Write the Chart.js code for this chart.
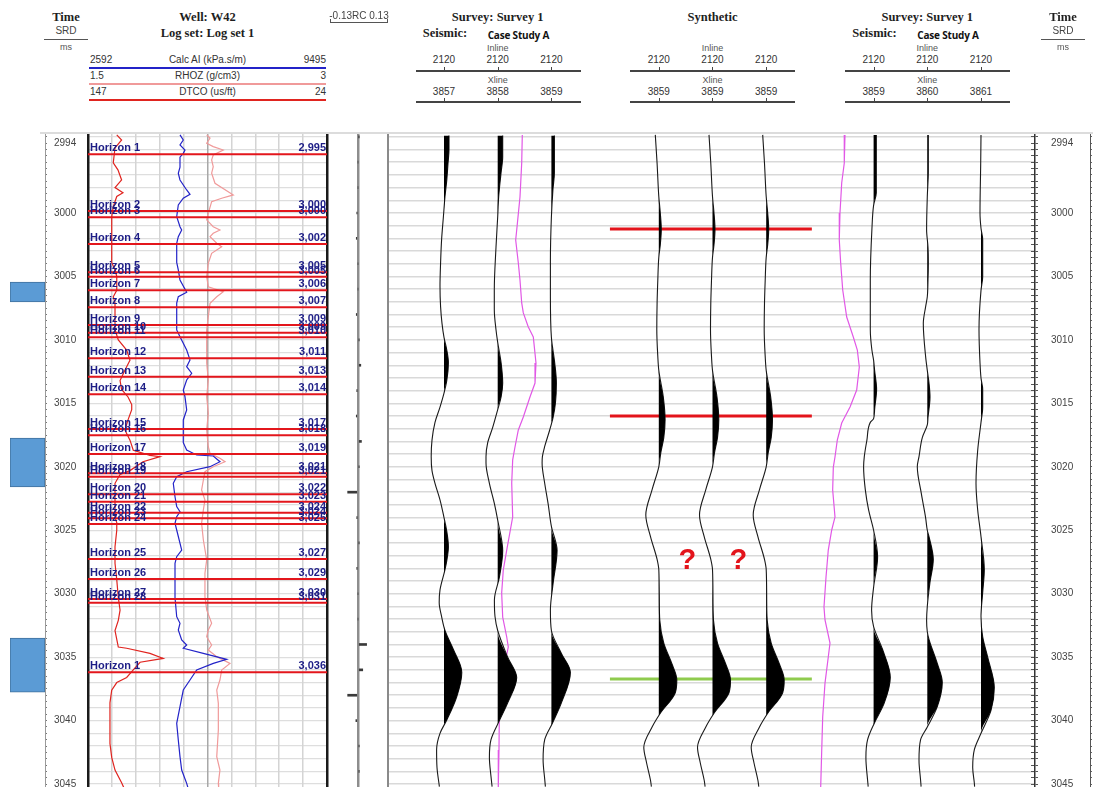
<!DOCTYPE html>
<html>
<head>
<meta charset="utf-8">
<title>Well W42 – seismic well tie</title>
<script src="https://cdn.jsdelivr.net/npm/chart.js@4.4.1/dist/chart.umd.min.js"></script>
<style>
  body { margin: 0; background: #fff; }
  #page { position: relative; width: 1093px; height: 787px; overflow: hidden;
          font-family: "Liberation Sans", Arial, sans-serif; color: #333; }
  #page canvas { position: absolute; }
  .tx { position: absolute; white-space: nowrap; font-size: 10px; line-height: 12px; }
  .c { transform: translate(-50%, -50%); }
  .l { transform: translate(0, -50%); }
  .r { transform: translate(-100%, -50%); }
  .serif { font-family: "Liberation Serif", "Times New Roman", serif; font-weight: bold;
           font-size: 12.5px; color: #1e1e1e; }
  .case { font-family: "Open Sans", "Liberation Sans", sans-serif; font-weight: 700;
          font-size: 10px; color: #111; letter-spacing: -0.2px; }
  .small { font-size: 9px; color: #555; }
  .hl { position: absolute; height: 1px; background: #555; }
</style>
</head>
<body>
<div id="page"></div>
<script>
// ---------- time window (two-way time, ms) ----------
const T_TOP = 2993.70;
const T_BOTTOM = 3045.23;
const timeLabels = [2994, 3000, 3005, 3010, 3015, 3020, 3025, 3030, 3035, 3040, 3045];

// ---------- well logs: [time ms, value] ----------
const dtco = [[2993.85,132.2],[2994.25,129.7],[2994.88,133.1],[2996.06,134.0],[2996.6,131.6],[2997.4,129.7],[2998.0,133.1],[2998.4,129.0],[2998.7,132.2],[2999.5,134.0],[3000.3,134.8],[3002.1,134.8],[3003.9,134.8],[3004.5,133.1],[3005.0,132.2],[3006.1,132.2],[3006.6,134.0],[3007.1,133.1],[3009.2,133.1],[3010.0,131.4],[3010.8,127.1],[3011.6,125.4],[3012.4,128.0],[3013.2,130.5],[3013.9,129.7],[3014.5,126.4],[3015.1,124.5],[3015.5,124.5],[3016.3,126.4],[3017.1,128.0],[3017.9,125.4],[3018.7,123.7],[3019.1,115.1],[3019.2,110.0],[3019.6,118.7],[3020.3,125.4],[3020.6,130.5],[3021.3,133.1],[3022.4,133.1],[3024.0,133.1],[3024.4,132.2],[3025.0,132.2],[3026.3,133.1],[3027.6,133.1],[3028.9,132.2],[3030.3,131.4],[3031.3,130.5],[3032.1,131.4],[3032.9,133.1],[3033.6,132.2],[3034.2,131.4],[3034.3,127.1],[3034.7,115.1],[3035.1,108.3],[3035.4,120.2],[3036.0,123.7],[3036.6,127.1],[3037.0,132.2],[3037.6,134.8],[3038.6,135.7],[3041.8,135.7],[3042.9,134.8],[3043.9,133.1],[3044.9,129.7],[3045.3,128.5]];

const calcAI = [[2993.85,5249],[2994.25,5344],[2994.64,5249],[2995.04,5393],[2995.30,5344],[2995.6,5249],[2996.4,5249],[2996.87,5200],[2997.4,5249],[2998.19,5442],[2998.53,5538],[2998.84,5344],[2999.37,5200],[3000.29,5154],[3001.08,5249],[3001.34,5298],[3001.87,5200],[3002.4,5154],[3003.9,5154],[3004.49,5200],[3005.28,5249],[3006.25,5442],[3006.59,5200],[3007.1,5154],[3009.22,5154],[3009.75,5249],[3010.80,5442],[3011.58,5538],[3012.11,5442],[3012.63,5587],[3013.16,5442],[3013.95,5344],[3014.48,5393],[3015.52,5442],[3016.31,5344],[3018.1,5344],[3018.68,5442],[3019.07,5731],[3019.15,6211],[3019.60,6404],[3019.99,6115],[3020.39,5442],[3020.78,5154],[3021.30,5055],[3022.36,5105],[3023.14,5154],[3023.54,5249],[3023.93,5154],[3024.45,5105],[3024.98,5154],[3026.56,5298],[3027.08,5154],[3027.6,5105],[3030.3,5105],[3031.81,5154],[3032.33,5249],[3032.86,5200],[3033.65,5298],[3034.04,5442],[3034.30,5344],[3034.70,5922],[3035.17,6598],[3035.49,6211],[3036.01,5731],[3036.80,5538],[3037.59,5344],[3038.90,5249],[3040.21,5154],[3041.53,5200],[3042.84,5249],[3043.89,5298],[3044.94,5442],[3045.3,5480]];

const rhoz = [[2993.85,2.245],[2994.11,2.266],[2994.51,2.245],[2994.77,2.286],[2995.04,2.349],[2995.43,2.286],[2995.82,2.276],[2996.35,2.286],[2996.87,2.276],[2997.66,2.297],[2998.58,2.412],[2998.84,2.339],[2999.11,2.276],[3000.02,2.255],[3000.55,2.245],[3001.08,2.286],[3001.34,2.328],[3001.60,2.286],[3001.87,2.266],[3002.39,2.308],[3002.66,2.339],[3003.18,2.276],[3003.96,2.255],[3005.02,2.245],[3005.81,2.255],[3006.20,2.349],[3006.60,2.308],[3007.12,2.266],[3008.17,2.255],[3009.22,2.245],[3011.84,2.245],[3013.16,2.255],[3014.48,2.245],[3015.78,2.255],[3017.10,2.245],[3018.42,2.255],[3018.94,2.266],[3019.33,2.328],[3019.60,2.360],[3019.99,2.286],[3020.39,2.234],[3021.04,2.224],[3021.83,2.213],[3022.62,2.234],[3023.40,2.224],[3024.45,2.213],[3025.77,2.224],[3027.34,2.245],[3028.39,2.234],[3030.24,2.234],[3031.28,2.245],[3032.33,2.276],[3032.86,2.255],[3033.39,2.245],[3034.04,2.276],[3034.44,2.255],[3034.96,2.308],[3035.49,2.391],[3036.01,2.339],[3036.80,2.328],[3037.59,2.308],[3038.64,2.318],[3040.74,2.318],[3042.84,2.308],[3043.89,2.328],[3044.94,2.318],[3045.3,2.320]];

// log curve scales and legend
const logCurves = [
  { name: 'Calc AI (kPa.s/m)', min: 2592, max: 9495, data: calcAI, color: '#2323c8', axis: 'xAI', reverse: false, minLabel: '2592', maxLabel: '9495' },
  { name: 'RHOZ (g/cm3)',      min: 1.5,  max: 3,    data: rhoz,   color: '#f09a9a', axis: 'xRH', reverse: false, minLabel: '1.5',  maxLabel: '3' },
  { name: 'DTCO (us/ft)',      min: 24,   max: 147,  data: dtco,   color: '#e0241f', axis: 'xDT', reverse: true,  minLabel: '147',  maxLabel: '24' }
];

// ---------- horizon picks ----------
const horizonNames = ['Horizon 1','Horizon 2','Horizon 3','Horizon 4','Horizon 5','Horizon 6','Horizon 7','Horizon 8','Horizon 9','Horizon 10','Horizon 11','Horizon 12','Horizon 13','Horizon 14','Horizon 15','Horizon 16','Horizon 17','Horizon 18','Horizon 19','Horizon 20','Horizon 21','Horizon 22','Horizon 23','Horizon 24','Horizon 25','Horizon 26','Horizon 27','Horizon 28','Horizon 1'];
const horizonTimes = [2995.37,2999.84,3000.34,3002.44,3004.67,3005.02,3006.09,3007.43,3008.83,3009.43,3009.80,3011.45,3012.90,3014.29,3017.02,3017.52,3018.99,3020.51,3020.78,3022.17,3022.75,3023.62,3024.06,3024.51,3027.27,3028.84,3030.42,3030.71,3036.19];

// ---------- reflection coefficients (2 ms) ----------
const rcTimes  = [2994,2996,2998,3000,3002,3004,3006,3008,3010,3012,3014,3016,3018,3020,3022,3024,3026,3028,3030,3032,3034,3036,3038,3040,3042,3044];
const rcValues = [0.003,0,0,-0.004,-0.008,0,0,-0.008,0.004,0.013,-0.004,-0.008,0.016,0.004,-0.048,-0.004,0.004,-0.004,0,0,0.04,0.022,-0.048,-0.01,0.004,0.004];

// ---------- seismic / synthetic traces: [time ms, amplitude] ----------
const traceIL2120XL3857 = [[2993.9,0.25],[2995.0,0.25],[2996.1,0.20],[2997.4,0.14],[2998.7,0.05],[3000.3,-0.03],[3002.1,-0.12],[3003.9,-0.17],[3005.8,-0.20],[3007.4,-0.17],[3008.7,-0.10],[3009.8,0],[3010.8,0.14],[3011.8,0.22],[3013.2,0.14],[3014.2,0],[3015.3,-0.20],[3016.5,-0.45],[3017.9,-0.60],[3019.2,-0.64],[3020.3,-0.60],[3021.3,-0.45],[3022.6,-0.20],[3024.0,0],[3025.0,0.13],[3026.3,0.22],[3027.3,0.15],[3028.1,0.05],[3029.7,-0.20],[3030.7,-0.24],[3031.8,-0.12],[3032.9,0.05],[3034.4,0.47],[3036.2,0.89],[3038.1,0.64],[3039.95,0.14],[3041.0,-0.20],[3042.3,-0.37],[3043.7,-0.35],[3045.2,-0.23]];
const traceIL2120XL3858 = [[2993.9,0.25],[2995.6,0.25],[2996.8,0.17],[2998.7,0.05],[3000.3,0],[3002.7,-0.085],[3006.1,-0.17],[3007.6,-0.17],[3009.2,-0.085],[3010.2,0],[3011.8,0.17],[3013.4,0.25],[3014.5,0.17],[3015.5,0],[3016.9,-0.25],[3018.1,-0.50],[3019.2,-0.585],[3019.7,-0.585],[3021.3,-0.415],[3022.9,-0.165],[3024.2,0],[3026.6,0.25],[3028.7,0.085],[3030.5,-0.165],[3031.8,-0.135],[3032.9,0],[3035.0,0.50],[3036.6,0.95],[3038.6,0.50],[3040.0,0.085],[3041.5,-0.335],[3042.9,-0.415],[3044.4,-0.335],[3045.2,-0.28]];
const traceIL2120XL3859a = [[2993.9,0.15],[2996.8,0.15],[2998.2,0.075],[3000.3,0],[3003.9,-0.05],[3006.6,-0.05],[3009.8,0],[3011.8,0.165],[3013.4,0.25],[3015.0,0.20],[3016.1,0.085],[3017.1,-0.085],[3018.4,-0.335],[3019.2,-0.45],[3019.7,-0.465],[3021.3,-0.335],[3022.9,-0.165],[3024.7,0],[3026.6,0.285],[3029.2,0.085],[3031.3,-0.05],[3032.9,0],[3034.7,0.50],[3036.2,0.95],[3038.6,0.50],[3040.2,0.05],[3041.5,-0.335],[3043.1,-0.415],[3044.6,-0.335],[3045.2,-0.30]];
const syntheticTrace = [[2993.85,-0.175],[2996.1,-0.085],[2998.7,0],[3000.0,0.075],[3001.3,0.125],[3002.5,0.075],[3003.5,0],[3005.3,-0.05],[3007.1,-0.085],[3009.2,-0.10],[3011.3,-0.05],[3012.4,0],[3014.5,0.225],[3016.3,0.315],[3017.7,0.25],[3018.9,0.10],[3020.0,0],[3021.8,-0.335],[3023.8,-0.65],[3025.5,-0.415],[3027.3,-0.085],[3028.1,0],[3030.5,0.025],[3032.1,0.05],[3033.9,0.25],[3035.5,0.65],[3036.8,0.90],[3037.8,0.825],[3039.4,0.085],[3040.5,-0.335],[3042.1,-0.75],[3043.3,-0.615],[3044.7,-0.415],[3045.2,-0.37]];
const traceIL2120XL3859b = [[2993.85,0.135],[2998.4,0.135],[2999.4,0],[3001.3,-0.085],[3005.3,-0.165],[3009.2,-0.165],[3010.8,-0.085],[3011.6,0],[3012.4,0.05],[3013.9,0.15],[3015.5,0.05],[3016.2,0],[3016.5,-0.165],[3017.9,-0.335],[3019.2,-0.465],[3020.0,-0.50],[3021.8,-0.415],[3023.4,-0.25],[3025.0,0],[3027.1,0.20],[3029.5,0],[3031.3,-0.10],[3032.6,0],[3034.4,0.45],[3036.6,0.835],[3038.6,0.535],[3040.2,0.035],[3041.5,-0.30],[3042.9,-0.385],[3044.7,-0.30],[3045.2,-0.27]];
const traceIL2120XL3860 = [[2993.85,0.05],[2996.8,0.05],[2998.7,0],[3001.3,-0.035],[3002.7,0.035],[3003.9,0.05],[3005.3,0.035],[3006.6,0],[3007.4,-0.085],[3008.7,-0.20],[3011.3,-0.085],[3012.4,0],[3013.4,0.085],[3014.5,0.135],[3016.1,0.035],[3016.7,0],[3017.7,-0.25],[3019.2,-0.415],[3020.0,-0.50],[3022.1,-0.30],[3024.0,-0.085],[3025.0,0],[3025.5,0.085],[3027.3,0.30],[3029.1,0.135],[3031.0,0],[3032.1,-0.035],[3033.0,0],[3033.6,0.085],[3035.5,0.50],[3037.0,0.75],[3038.9,0.50],[3040.5,0],[3041.5,-0.335],[3043.1,-0.415],[3044.7,-0.335],[3045.2,-0.31]];
const traceIL2120XL3861 = [[2993.85,0],[2996.1,-0.015],[3000.0,-0.05],[3001.2,0],[3002.1,0.085],[3005.0,0.085],[3006.1,0],[3009.2,-0.10],[3011.8,-0.05],[3013.0,0],[3013.9,0.085],[3015.3,0.085],[3016.5,0],[3018.7,-0.165],[3021.3,-0.25],[3023.4,-0.165],[3025.5,0],[3028.1,0.165],[3029.9,0.085],[3031.8,0],[3033.4,0.085],[3035.0,0.335],[3037.4,0.665],[3039.2,0.50],[3041.0,0],[3042.3,-0.335],[3043.7,-0.415],[3044.9,-0.335],[3045.2,-0.32]];

// impedance overlays in the seismic panel (trace-column units)
const overlayLeft = [[2993.85,1.458],[2996.06,1.447],[2998.74,1.415],[3001.34,1.354],[3002.13,1.335],[3003.94,1.384],[3005.28,1.415],[3007.09,1.447],[3007.88,1.477],[3008.98,1.570],[3009.77,1.663],[3011.82,1.713],[3013.40,1.695],[3014.50,1.601],[3016.08,1.477],[3017.10,1.384],[3018.44,1.322],[3019.46,1.279],[3021.28,1.261],[3023.96,1.279],[3026.56,1.168],[3028.13,1.104],[3029.94,1.074],[3031.84,1.093],[3033.41,1.168],[3034.20,1.197],[3035.46,1.136],[3037.59,1.074],[3039.72,1.030],[3042.32,1.024],[3045.23,1.011]];
const overlayRight = [[2993.85,7.467],[2996.06,7.454],[2997.64,7.406],[3000.00,7.374],[3002.13,7.361],[3003.94,7.387],[3006.07,7.425],[3008.20,7.499],[3009.77,7.622],[3010.80,7.697],[3012.14,7.734],[3013.95,7.685],[3015.29,7.561],[3016.55,7.406],[3017.89,7.324],[3019.23,7.281],[3020.02,7.250],[3021.83,7.238],[3023.96,7.281],[3024.98,7.220],[3026.56,7.156],[3028.68,7.114],[3031.05,7.076],[3032.07,7.095],[3033.89,7.188],[3034.99,7.156],[3037.04,7.095],[3039.72,7.052],[3042.32,7.034],[3045.23,7.015]];

// tie markers on the synthetic
const redMarkers = [3001.26, 3016.00];
const greenMarkers = [3036.72];
const questionTime = 3027.4;

// highlighted intervals beside the time axis
const boxRanges = [[3005.44, 3007.01], [3017.73, 3021.59], [3033.49, 3037.75]];

// ---------- panel groups ----------
const groups = [
  { title: 'Survey: Survey 1', seismic: 'Case Study A', columns: [0, 1, 2], inline: [2120, 2120, 2120], xline: [3857, 3858, 3859],
    traces: [traceIL2120XL3857, traceIL2120XL3858, traceIL2120XL3859a] },
  { title: 'Synthetic', seismic: null, columns: [4, 5, 6], inline: [2120, 2120, 2120], xline: [3859, 3859, 3859],
    traces: [syntheticTrace, syntheticTrace, syntheticTrace] },
  { title: 'Survey: Survey 1', seismic: 'Case Study A', columns: [8, 9, 10], inline: [2120, 2120, 2120], xline: [3859, 3860, 3861],
    traces: [traceIL2120XL3859b, traceIL2120XL3860, traceIL2120XL3861] }
];

// ---------- layout ----------
const page = document.getElementById('page');
const PANEL_TOP = 133, PANEL_H = 654;
const GAIN = 0.3724;           // trace columns per amplitude unit
const MARKER_SPAN = [3.09, 6.85];
const LOG_LEFT = 84, SEIS_LEFT = 384;

function canvasAt(left, width) {
  const c = document.createElement('canvas');
  c.width = width; c.height = PANEL_H;
  c.style.left = left + 'px'; c.style.top = PANEL_TOP + 'px';
  page.appendChild(c);
  return c;
}
function txt(s, x, y, cls, extra) {
  const d = document.createElement('div');
  d.className = 'tx ' + (cls || 'c');
  d.textContent = s;
  d.style.left = x + 'px'; d.style.top = y + 'px';
  if (extra) Object.assign(d.style, extra);
  page.appendChild(d);
  return d;
}
function hline(x1, x2, y, color, h) {
  const d = document.createElement('div');
  d.className = 'hl';
  d.style.left = x1 + 'px'; d.style.width = (x2 - x1) + 'px'; d.style.top = y + 'px';
  d.style.height = (h || 1) + 'px';
  if (color) d.style.background = color;
  page.appendChild(d);
}
function vtick(x, y, h, color) {
  const d = document.createElement('div');
  d.style.cssText = `position:absolute;left:${x}px;top:${y}px;width:1px;height:${h}px;background:${color||'#555'}`;
  page.appendChild(d);
}

const baseOpts = () => ({
  responsive: false, animation: false, events: [],
  layout: { autoPadding: false, padding: 0 },
  plugins: { legend: { display: false }, tooltip: { enabled: false } }
});
const zeroW = s => { s.width = 0; };
const zeroH = s => { s.height = 0; };
// a labelled time axis keeps the full panel height (no label overhang padding)
const fixedWidth = w => s => { s.width = w; s.paddingTop = 0; s.paddingBottom = 0; };

// minor ticks for the time axes (every half millisecond)
function halfMsTicks(scale) {
  const ticks = [];
  for (let v = Math.ceil(T_TOP * 2) / 2; v <= T_BOTTOM; v += 0.5) ticks.push({ value: v });
  scale.ticks = ticks;
}
function timeLabel(value) {
  const i = timeLabels.indexOf(value);
  if (i < 0) return '';
  return i === 0 ? ['', String(value)] : String(value);
}

// ---------- left time axis with highlighted intervals ----------
new Chart(canvasAt(0, 88), {
  type: 'bar',
  data: {
    labels: [''],
    datasets: boxRanges.map(r => ({
      data: [r], backgroundColor: '#5b9bd5', borderColor: '#41719c', borderWidth: 1,
      borderSkipped: false, grouped: false, barPercentage: 1, categoryPercentage: 1
    }))
  },
  options: Object.assign(baseOpts(), {
    layout: { autoPadding: false, padding: { left: 10 } },
    scales: {
      x: { type: 'category', display: false },
      y: {
        type: 'linear', min: T_TOP, max: T_BOTTOM, reverse: true, position: 'right',
        afterBuildTicks: halfMsTicks, afterFit: fixedWidth(43),
        grid: { drawOnChartArea: false, tickLength: 2, color: '#777', lineWidth: 1 },
        border: { display: true, color: '#9a9a9a', width: 1, dash: [1, 2] },
        ticks: { autoSkip: false, padding: 7, crossAlign: 'near', color: '#444',
                 font: { family: '"Liberation Sans", Arial, sans-serif', size: 10 }, callback: timeLabel }
      }
    }
  })
});

// ---------- log track ----------
const horizonLabelPlugin = {
  id: 'horizonLabels',
  afterDatasetsDraw(chart) {
    const { ctx, chartArea: a } = chart;
    const y = chart.scales.y;
    ctx.save();
    ctx.font = 'bold 11px "Liberation Sans", Arial, sans-serif';
    ctx.fillStyle = '#1d1d86';
    ctx.textBaseline = 'bottom';
    horizonTimes.forEach((t, i) => {
      const py = y.getPixelForValue(t) - 0.5;
      ctx.textAlign = 'left';
      ctx.fillText(horizonNames[i], a.left + 2, py);
      ctx.textAlign = 'right';
      ctx.fillText(Math.round(t).toLocaleString('en-US'), a.right - 1, py);
    });
    ctx.restore();
  }
};

const logScales = {
  y: {
    type: 'linear', min: T_TOP, max: T_BOTTOM, reverse: true, position: 'left',
    ticks: { display: false, stepSize: 1, includeBounds: false },
    grid: { color: '#dedede', lineWidth: 1.3, drawTicks: false },
    border: { display: false }, afterFit: zeroW
  },
  xg: {
    type: 'linear', min: 0, max: 10, position: 'bottom',
    ticks: { display: false, stepSize: 1 },
    grid: {
      drawTicks: false,
      color: c => (c.tick.value === 0 || c.tick.value === 10) ? '#1a1a1a' : (c.tick.value === 5 ? '#a8a8a8' : '#d4d4d4'),
      lineWidth: c => (c.tick.value === 0 || c.tick.value === 10) ? 2.5 : 1.5
    },
    border: { display: false }, afterFit: zeroH
  },
  xH: { type: 'linear', min: 0, max: 1, display: false }
};
logCurves.forEach(c => {
  logScales[c.axis] = { type: 'linear', min: c.min, max: c.max, reverse: c.reverse, display: false };
});

const logDatasets = [];
horizonTimes.forEach(t => logDatasets.push({
  data: [{ x: 0, y: t }, { x: 1, y: t }], xAxisID: 'xH', yAxisID: 'y',
  showLine: true, borderColor: '#e3161c', borderWidth: 2, pointRadius: 0
}));
logCurves.forEach(c => logDatasets.push({
  data: c.data.map(([t, v]) => ({ x: v, y: t })), xAxisID: c.axis, yAxisID: 'y',
  showLine: true, borderColor: c.color, borderWidth: 1.2, pointRadius: 0, tension: 0
}));

const logChart = new Chart(canvasAt(LOG_LEFT, 247), {
  type: 'scatter',
  data: { datasets: logDatasets },
  options: Object.assign(baseOpts(), {
    layout: { autoPadding: false, padding: { left: 4, right: 4 } },
    scales: logScales
  }),
  plugins: [horizonLabelPlugin]
});

// ---------- reflection coefficient track ----------
new Chart(canvasAt(330, 56), {
  type: 'bar',
  data: {
    datasets: [{
      data: rcTimes.map((t, i) => ({ x: rcValues[i], y: t })),
      backgroundColor: '#3a3a3a', barThickness: 2
    }]
  },
  options: Object.assign(baseOpts(), {
    indexAxis: 'y',
    scales: {
      y: { type: 'linear', min: T_TOP, max: T_BOTTOM, reverse: true, offset: false, display: false },
      x: {
        type: 'linear', min: -0.13, max: 0.13, position: 'bottom',
        afterBuildTicks: s => { s.ticks = [{ value: 0 }]; },
        ticks: { display: false }, grid: { drawTicks: false, color: '#8d8d8d', lineWidth: 2.5 },
        border: { display: false }, afterFit: zeroH
      }
    }
  })
});

// ---------- seismic / synthetic panel ----------
function positiveLobe(trace, base) {
  const out = [];
  for (let i = 0; i < trace.length; i++) {
    const [t, a] = trace[i];
    if (i > 0) {
      const [t0, a0] = trace[i - 1];
      if ((a0 > 0 && a < 0) || (a0 < 0 && a > 0)) {
        out.push({ x: base, y: t0 + (t - t0) * (a0 / (a0 - a)) });
      }
    }
    out.push({ x: base + GAIN * Math.max(a, 0), y: t });
  }
  return out;
}

const seisDatasets = [];
groups.forEach(g => g.traces.forEach((trace, k) => {
  const base = g.columns[k];
  seisDatasets.push({
    data: positiveLobe(trace, base), fill: { value: base }, backgroundColor: '#000',
    borderWidth: 0, pointRadius: 0, cubicInterpolationMode: 'monotone'
  });
  seisDatasets.push({
    data: trace.map(([t, a]) => ({ x: base + GAIN * a, y: t })), fill: false,
    borderColor: '#1a1a1a', borderWidth: 1.1, pointRadius: 0, cubicInterpolationMode: 'monotone'
  });
}));
[overlayLeft, overlayRight].forEach(ov => seisDatasets.push({
  data: ov.map(([t, u]) => ({ x: u, y: t })), fill: false,
  borderColor: '#e158e6', borderWidth: 1.2, pointRadius: 0, tension: 0
}));
redMarkers.forEach(t => seisDatasets.push({
  data: [{ x: MARKER_SPAN[0], y: t }, { x: MARKER_SPAN[1], y: t }], fill: false,
  borderColor: '#e3141b', borderWidth: 3, pointRadius: 0
}));
greenMarkers.forEach(t => seisDatasets.push({
  data: [{ x: MARKER_SPAN[0], y: t }, { x: MARKER_SPAN[1], y: t }], fill: false,
  borderColor: '#8fcb4e', borderWidth: 3, pointRadius: 0
}));

const questionPlugin = {
  id: 'questionMarks',
  afterDatasetsDraw(chart) {
    const { ctx } = chart;
    const { x, y } = chart.scales;
    ctx.save();
    ctx.font = 'bold 29px "Liberation Sans", Arial, sans-serif';
    ctx.fillStyle = '#e3141b';
    ctx.textAlign = 'center';
    ctx.textBaseline = 'middle';
    [4.53, 5.48].forEach(col => ctx.fillText('?', x.getPixelForValue(col), y.getPixelForValue(questionTime)));
    ctx.restore();
  }
};

const seisChart = new Chart(canvasAt(SEIS_LEFT, 655), {
  type: 'line',
  data: { datasets: seisDatasets },
  options: Object.assign(baseOpts(), {
    indexAxis: 'y',
    layout: { autoPadding: false, padding: { left: 4, right: 4 } },
    elements: { point: { radius: 0 } },
    scales: {
      y: {
        type: 'linear', min: T_TOP, max: T_BOTTOM, reverse: true, position: 'left',
        ticks: { display: false, stepSize: 1, includeBounds: false },
        grid: { color: '#d9d9d9', lineWidth: 1.5, drawTicks: false },
        border: { display: true, color: '#8a8a8a', width: 2 }, afterFit: zeroW
      },
      x: { type: 'linear', min: -1.0428, max: 11.0056, display: false }
    }
  }),
  plugins: [questionPlugin]
});

// ---------- right time axis ----------
new Chart(canvasAt(1031, 62), {
  type: 'scatter',
  data: { datasets: [] },
  options: Object.assign(baseOpts(), {
    scales: {
      x: { type: 'linear', display: false },
      y: {
        type: 'linear', min: T_TOP, max: T_BOTTOM, reverse: true, position: 'right',
        afterBuildTicks: halfMsTicks, afterFit: fixedWidth(55),
        grid: { drawOnChartArea: true, tickLength: 3, color: '#555', lineWidth: 1 },
        border: { display: true, color: '#333', width: 1.5 },
        ticks: { autoSkip: false, padding: 13, crossAlign: 'near', color: '#444',
                 font: { family: '"Liberation Sans", Arial, sans-serif', size: 10 }, callback: timeLabel }
      },
      y2: {
        type: 'linear', min: T_TOP, max: T_BOTTOM, reverse: true, position: 'right',
        afterBuildTicks: halfMsTicks, afterFit: fixedWidth(3),
        grid: { drawOnChartArea: false, tickLength: 2, color: '#666', lineWidth: 1 },
        border: { display: true, color: '#555', width: 1 },
        ticks: { display: false }
      }
    }
  })
});

// ---------- headers ----------
// panel top border
hline(40, 1093, 132, '#dcdcdc', 2);

// time axis headers
[66, 1063].forEach(cx => {
  txt('Time', cx, 17, 'c serif');
  txt('SRD', cx, 31, 'c', { color: '#444' });
  hline(cx - 22, cx + 22, 39, '#555');
  txt('ms', cx, 47, 'c small');
});

// log track header and curve legend
const la = logChart.chartArea;
const logL = LOG_LEFT + la.left, logR = LOG_LEFT + la.right;
const logMid = (logL + logR) / 2;
txt('Well: W42', logMid, 17, 'c serif');
txt('Log set: Log set 1', logMid, 33, 'c serif');
logCurves.forEach((c, i) => {
  const y = 60 + i * 16;
  txt(c.minLabel, logL + 2, y, 'l');
  txt(c.name, logMid, y, 'c');
  txt(c.maxLabel, logR - 1, y, 'r');
  hline(logL + 1, logR - 1, y + 7, c.color, 2);
});

// RC header
txt('-0.13RC 0.13', 359, 16, 'c', { fontSize: '10px', color: '#444' });
hline(330, 388, 22, '#555');
vtick(330, 19, 3); vtick(387, 19, 3);

// seismic group headers, positioned from the trace columns
const sx = seisChart.scales.x;
groups.forEach(g => {
  const px = g.columns.map(c => SEIS_LEFT + sx.getPixelForValue(c));
  const mid = px[1];
  txt(g.title, mid, 17, 'c serif');
  if (g.seismic) {
    txt('Seismic:', mid - 75, 33, 'l serif');
    txt(g.seismic, mid - 10, 35, 'l case');
  }
  txt('Inline', mid, 48, 'c small');
  g.inline.forEach((v, k) => txt(String(v), px[k], 60, 'c'));
  hline(mid - 82, mid + 83, 70, '#444', 1.5);
  px.forEach(p => vtick(Math.round(p), 67, 3, '#444'));
  txt('Xline', mid, 80, 'c small');
  g.xline.forEach((v, k) => txt(String(v), px[k], 92, 'c'));
  hline(mid - 82, mid + 83, 101, '#444', 1.5);
  px.forEach(p => vtick(Math.round(p), 98, 3, '#444'));
});
</script>
</body>
</html>
